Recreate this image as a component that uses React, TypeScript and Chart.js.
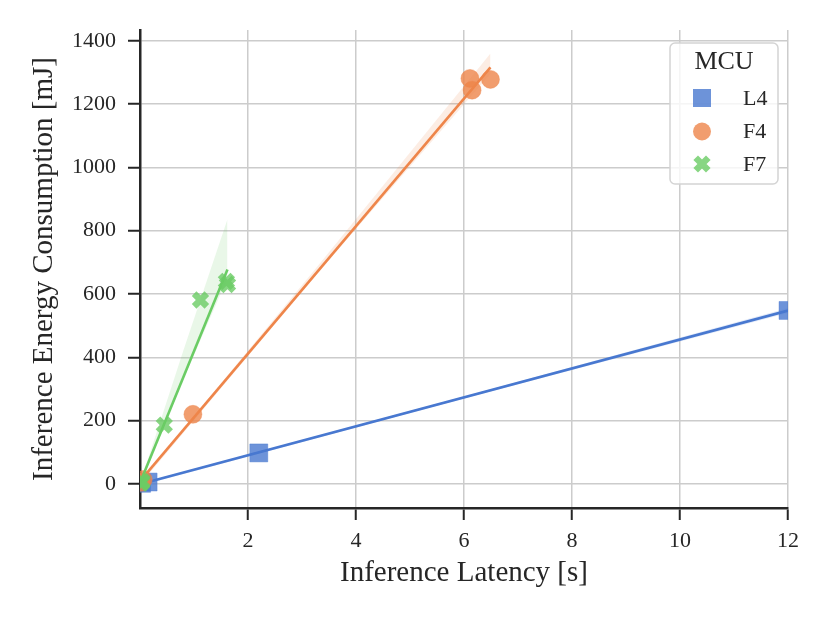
import { useEffect, useRef } from "react";
import { Chart, registerables } from "chart.js";

Chart.register(...registerables);

const FONT = "'Liberation Serif', 'DejaVu Serif', 'Times New Roman', serif";
const INK = "#262626";

// ---- data ----
const mcuLabels = ["L4", "F4", "F7"];
const l4Latency = [0.03, 0.15, 2.2, 12.0];
const l4Energy = [2, 6, 98, 548];
const f4Latency = [0.02, 0.06, 0.98, 6.11, 6.15, 6.49];
const f4Energy = [5, 14, 220, 1281, 1244, 1278];
const f7Latency = [0.02, 0.03, 0.04, 0.45, 1.12, 1.6, 1.62];
const f7Energy = [2, 5, 8, 186, 581, 640, 630];

// 95% confidence bands (x, upper, lower)
const l4BandX = [0.03, 6, 12];
const l4BandUpper = [3, 276, 556];
const l4BandLower = [-4, 270, 540];
const f4BandX = [0.02, 3.3, 6.49];
const f4BandUpper = [12, 690, 1360];
const f4BandLower = [2, 668, 1296];
const f7BandX = [0.02, 0.8, 1.62];
const f7BandUpper = [12, 420, 836];
const f7BandLower = [4, 330, 650];

const xTicks = [2, 4, 6, 8, 10, 12];
const yTicks = [0, 200, 400, 600, 800, 1000, 1200, 1400];

const xLabel = "Inference Latency [s]";
const yLabel = "Inference Energy Consumption [mJ]";
const legendTitle = "MCU";

const colors = ["#4878d0", "#ee854a", "#6acc64"];
const rgbs = ["72,120,208", "238,133,74", "106,204,100"];
const pointStyles = ["rect", "circle", "crossRot"];

// least-squares fit of y = a + b x, evaluated at the data's x range
function fitLine(xs: number[], ys: number[]) {
  const n = xs.length;
  const xbar = xs.reduce((a, b) => a + b, 0) / n;
  const ybar = ys.reduce((a, b) => a + b, 0) / n;
  let sxx = 0, sxy = 0;
  for (let i = 0; i < n; i++) {
    sxx += (xs[i] - xbar) ** 2;
    sxy += (xs[i] - xbar) * (ys[i] - ybar);
  }
  const b = sxy / sxx;
  const a = ybar - b * xbar;
  const xmin = Math.min(...xs), xmax = Math.max(...xs);
  return [xmin, xmax].map((x) => ({ x, y: a + b * x }));
}

const groups = [
  { xs: l4Latency, ys: l4Energy, bx: l4BandX, bu: l4BandUpper, bl: l4BandLower },
  { xs: f4Latency, ys: f4Energy, bx: f4BandX, bu: f4BandUpper, bl: f4BandLower },
  { xs: f7Latency, ys: f7Energy, bx: f7BandX, bu: f7BandUpper, bl: f7BandLower },
];

const legendPlugin = {
  id: "mcuLegend",
  afterDraw(chart: any) {
    const ctx: CanvasRenderingContext2D = chart.ctx;
    const a = chart.chartArea;
    const bw = 108, bh = 141;
    const bx = a.right - 10 - bw;
    const by = a.top + 13;
    ctx.save();
    ctx.beginPath();
    (ctx as any).roundRect(bx, by, bw, bh, 5);
    ctx.fillStyle = "rgba(255,255,255,0.8)";
    ctx.fill();
    ctx.strokeStyle = "#d4d4d4";
    ctx.lineWidth = 1.5;
    ctx.stroke();
    ctx.fillStyle = INK;
    ctx.textBaseline = "middle";
    ctx.textAlign = "center";
    ctx.font = `26px ${FONT}`;
    ctx.fillText(legendTitle, bx + bw / 2, by + 19);
    const rowY = [by + 55, by + 88.5, by + 121];
    const mx = bx + 32;
    mcuLabels.forEach((lab, i) => {
      const y = rowY[i];
      ctx.fillStyle = `rgba(${rgbs[i]},0.8)`;
      ctx.strokeStyle = `rgba(${rgbs[i]},0.8)`;
      if (i === 0) {
        ctx.fillRect(mx - 9, y - 9, 18, 18);
      } else if (i === 1) {
        ctx.beginPath();
        ctx.arc(mx, y, 9, 0, Math.PI * 2);
        ctx.fill();
      } else {
        ctx.beginPath();
        ctx.lineWidth = 6.5;
        ctx.moveTo(mx - 6.3, y - 6.3);
        ctx.lineTo(mx + 6.3, y + 6.3);
        ctx.moveTo(mx + 6.3, y - 6.3);
        ctx.lineTo(mx - 6.3, y + 6.3);
        ctx.stroke();
      }
      ctx.fillStyle = INK;
      ctx.textAlign = "left";
      ctx.font = `22px ${FONT}`;
      ctx.fillText(lab, bx + 73, y + 1);
    });
    ctx.restore();
  },
};

export default function App() {
  const ref = useRef<HTMLCanvasElement | null>(null);

  useEffect(() => {
    document.body.style.margin = "0";
    const canvas = ref.current;
    if (!canvas) return;

    const datasets: any[] = [];
    groups.forEach((g, i) => {
      const base = 100 - i * 30;
      datasets.push({
        label: mcuLabels[i],
        data: g.xs.map((x, k) => ({ x, y: g.ys[k] })),
        showLine: false,
        pointStyle: pointStyles[i],
        pointRadius: i === 0 ? 12.7 : 9,
        pointBackgroundColor: `rgba(${rgbs[i]},0.8)`,
        pointBorderColor: `rgba(${rgbs[i]},0.8)`,
        pointBorderWidth: i === 2 ? 6.5 : 0.5,
        order: base,
        clip: 0,
      });
      datasets.push({
        label: mcuLabels[i] + " ci upper",
        data: g.bx.map((x, k) => ({ x, y: g.bu[k] })),
        borderWidth: 0,
        pointRadius: 0,
        fill: "+1",
        backgroundColor: `rgba(${rgbs[i]},0.15)`,
        order: base - 5,
        clip: 0,
      });
      datasets.push({
        label: mcuLabels[i] + " ci lower",
        data: g.bx.map((x, k) => ({ x, y: g.bl[k] })),
        borderWidth: 0,
        pointRadius: 0,
        fill: false,
        order: base - 6,
        clip: 0,
      });
      datasets.push({
        label: mcuLabels[i] + " fit",
        data: fitLine(g.xs, g.ys),
        borderColor: colors[i],
        borderWidth: 2.6,
        pointRadius: 0,
        fill: false,
        order: base - 10,
        clip: 0,
      });
    });

    const chart = new Chart(canvas, {
      type: "line",
      data: { datasets },
      options: {
        animation: false,
        responsive: false,
        events: [],
        layout: { padding: { left: 0, right: 42, top: 30, bottom: 20 } },
        plugins: {
          legend: { display: false },
          tooltip: { enabled: false },
          title: { display: false },
        },
        scales: {
          x: {
            type: "linear",
            min: 0,
            max: 12,
            afterBuildTicks: (s: any) => {
              s.ticks = xTicks.map((v) => ({ value: v }));
            },
            afterFit: (s: any) => {
              s.height = 95;
            },
            grid: { color: "#cccccc", lineWidth: 1.5, tickColor: INK, tickLength: 12, tickWidth: 2 },
            border: { display: true, color: INK, width: 2.5 },
            ticks: {
              color: INK,
              font: { family: FONT, size: 22 },
              padding: 8,
              maxRotation: 0,
              callback: (v: any) => String(v),
            },
            title: {
              display: true,
              text: xLabel,
              color: INK,
              font: { family: FONT, size: 29 },
              padding: { top: 0, bottom: 12 },
            },
          },
          y: {
            type: "linear",
            min: -76,
            max: 1434,
            afterBuildTicks: (s: any) => {
              s.ticks = yTicks.map((v) => ({ value: v }));
            },
            afterFit: (s: any) => {
              s.width = 140;
            },
            grid: { color: "#cccccc", lineWidth: 1.5, tickColor: INK, tickLength: 12, tickWidth: 2 },
            border: { display: true, color: INK, width: 2.5 },
            ticks: {
              color: INK,
              font: { family: FONT, size: 22 },
              padding: 12,
              callback: (v: any) => String(v),
            },
            title: {
              display: true,
              text: yLabel,
              color: INK,
              font: { family: FONT, size: 29 },
              padding: { top: 27, bottom: 0 },
            },
          },
        },
      } as any,
      plugins: [legendPlugin],
    });

    return () => chart.destroy();
  }, []);

  return (
    <div style={{ width: 830, height: 623, position: "relative" }}>
      <canvas ref={ref} width={830} height={623} style={{ display: "block" }} />
    </div>
  );
}
